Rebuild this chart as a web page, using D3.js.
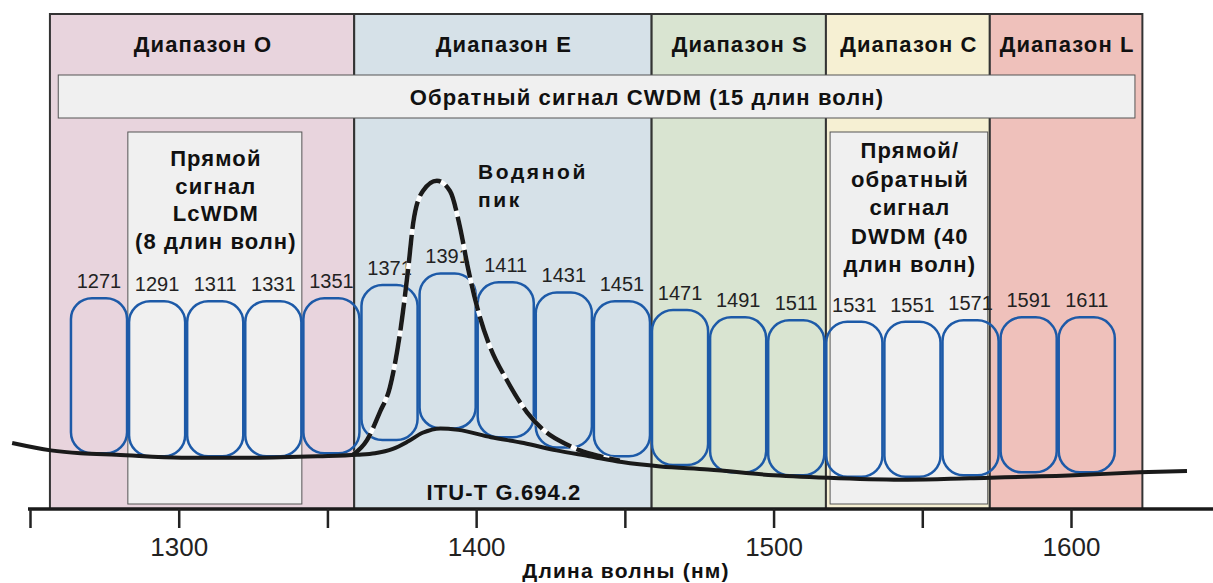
<!DOCTYPE html>
<meta charset="utf-8">
<style>
body { margin: 0; background: #fff; }
svg { display: block; font-family: "Liberation Sans", Arial, sans-serif; }
.band { stroke: #333; stroke-width: 2; }
.hdr { font-weight: bold; font-size: 22px; letter-spacing: 1.1px; fill: #111; text-anchor: middle; }
.note { font-weight: bold; font-size: 22px; letter-spacing: 1.1px; fill: #111; text-anchor: middle; }
.chan { fill: none; stroke: #1d5aa8; stroke-width: 2.5; }
.chan-label { font-size: 20px; fill: #222; text-anchor: middle; }
.axis text { font-size: 26px; fill: #222; font-family: "Liberation Sans", Arial, sans-serif; }
.axis line { stroke: #222; stroke-width: 2.5; }
</style>
<svg width="1213" height="583"></svg>
<script src="https://cdn.jsdelivr.net/npm/d3@7"></script>
<script>

// spectral bands (nm), as drawn
var bandNames  = ["Диапазон O", "Диапазон E", "Диапазон S", "Диапазон C", "Диапазон L"];
var bandStart  = [1256.7, 1359, 1459, 1517.6, 1572.7];
var bandEnd    = [1359, 1459, 1517.6, 1572.7, 1624];
var bandColors = ["#e8d4dd", "#d6e1e8", "#d9e4d1", "#f6f0d3", "#efc1bb"];

// CWDM channels and the attenuation level each box sits on (dB/km)
var channels = [1271, 1291, 1311, 1331, 1351, 1371, 1391, 1411, 1431, 1451, 1471, 1491, 1511, 1531, 1551, 1571, 1591, 1611];
var chanBase = [0.38, 0.36, 0.36, 0.36, 0.38, 0.47, 0.55, 0.49, 0.42, 0.36, 0.30, 0.25, 0.23, 0.22, 0.22, 0.23, 0.25, 0.25];

// fibre attenuation (G.694.2 low water peak) and the water peak
var fibreNm  = [1244, 1257, 1267, 1279, 1301, 1324, 1347, 1360, 1366, 1372, 1377, 1382, 1388, 1394, 1405, 1416, 1427, 1438, 1449, 1462, 1478, 1500, 1522, 1545, 1566, 1601, 1623, 1639];
var fibreAtt = [0.45, 0.40, 0.38, 0.37, 0.35, 0.35, 0.36, 0.37, 0.38, 0.41, 0.46, 0.52, 0.55, 0.54, 0.49, 0.45, 0.40, 0.36, 0.32, 0.29, 0.27, 0.23, 0.21, 0.20, 0.21, 0.23, 0.25, 0.26];
var peakNm   = [1358.6, 1363.3, 1367.6, 1371, 1374.4, 1377.1, 1378.9, 1382.1, 1386.8, 1391.2, 1394.5, 1397.2, 1400.3, 1404.6, 1410.3, 1417.1, 1423.8, 1430.5, 1434.9, 1441.6, 1448.3];
var peakAtt  = [0.37, 0.47, 0.66, 0.83, 1.20, 1.63, 1.96, 2.17, 2.24, 2.17, 1.93, 1.65, 1.38, 1.11, 0.88, 0.66, 0.52, 0.44, 0.40, 0.36, 0.33];

var ticks = [1250, 1300, 1350, 1400, 1450, 1500, 1550, 1600];

// overlay boxes
var cwdmSpan = [1259.5, 1621.5];
var lcSpan   = [1282.9, 1341.4];
var dwdmSpan = [1519, 1572];
var lcText   = ["Прямой", "сигнал", "LcWDM", "(8 длин волн)"];
var dwdmText = ["Прямой/", "обратный", "сигнал", "DWDM (40", "длин волн)"];

var svg = d3.select("svg");
var axisY = 509, topY = 14;

var x = d3.scaleLinear().domain([1250, 1600]).range([30, 1071]);
// the channel grid in the source is drawn slightly compressed
var xc = d3.scaleLinear().domain([1271, 1611]).range([x(1273.2), x(1605.3)]);
var y = d3.scaleLinear().domain([0, 2.5]).range([axisY, 142.6]);

// bands
svg.selectAll(".band").data(bandNames).enter().append("rect")
    .attr("class", "band")
    .attr("x", function(d, i) { return x(bandStart[i]); })
    .attr("y", topY)
    .attr("width", function(d, i) { return x(bandEnd[i]) - x(bandStart[i]); })
    .attr("height", axisY - topY)
    .attr("fill", function(d, i) { return bandColors[i]; });

svg.selectAll(".hdr").data(bandNames).enter().append("text")
    .attr("class", "hdr")
    .attr("x", function(d, i) { return (x(bandStart[i]) + x(bandEnd[i])) / 2 + 1; })
    .attr("y", 52)
    .text(function(d) { return d; });

// CWDM bar
svg.append("rect")
    .attr("x", x(cwdmSpan[0])).attr("y", 75)
    .attr("width", x(cwdmSpan[1]) - x(cwdmSpan[0])).attr("height", 43)
    .attr("fill", "#f0f0f0").attr("stroke", "#555").attr("stroke-width", 1);
svg.append("text").attr("class", "note")
    .attr("x", 647).attr("y", 105)
    .text("Обратный сигнал CWDM (15 длин волн)");

// LcWDM and DWDM boxes
[[lcSpan, lcText, 166, 27.7], [dwdmSpan, dwdmText, 158, 28.6]].forEach(function(b) {
    var s = b[0];
    svg.append("rect")
        .attr("x", x(s[0])).attr("y", 132)
        .attr("width", x(s[1]) - x(s[0])).attr("height", axisY - 5 - 132)
        .attr("fill", "#f0f0f0").attr("stroke", "#555").attr("stroke-width", 1);
    svg.append("g").selectAll("text").data(b[1]).enter().append("text")
        .attr("class", "note")
        .attr("x", (x(s[0]) + x(s[1])) / 2 + 1)
        .attr("y", function(d, i) { return b[2] + i * b[3]; })
        .text(function(d) { return d; });
});

// channel boxes
var bw = xc(channels[1]) - xc(channels[0]);
var bh = 155;
svg.selectAll(".chan").data(channels).enter().append("rect")
    .attr("class", "chan")
    .attr("x", function(d) { return xc(d) - bw / 2 + 1; })
    .attr("y", function(d, i) { return y(chanBase[i]) - bh; })
    .attr("width", bw - 2)
    .attr("height", bh)
    .attr("rx", 21);

svg.selectAll(".chan-label").data(channels).enter().append("text")
    .attr("class", "chan-label")
    .attr("x", function(d) { return xc(d); })
    .attr("y", function(d, i) { return y(chanBase[i]) - bh - 10; })
    .text(function(d) { return d; });

// curves
var line = d3.line()
    .x(function(d) { return x(d[0]); })
    .y(function(d) { return y(d[1]); })
    .curve(d3.curveMonotoneX);

var peak = d3.zip(peakNm, peakAtt);
svg.append("path").datum(peak).attr("d", line)
    .attr("fill", "none").attr("stroke", "#fff").attr("stroke-width", 4.5);
svg.append("path").datum(peak).attr("d", line)
    .attr("fill", "none").attr("stroke", "#1a1a1a").attr("stroke-width", 4.5)
    .attr("stroke-dasharray", "28,6");

svg.append("path").datum(d3.zip(fibreNm, fibreAtt)).attr("d", line)
    .attr("fill", "none").attr("stroke", "#1a1a1a").attr("stroke-width", 4)
    .attr("stroke-linecap", "butt");

svg.append("text").attr("x", 478).attr("y", 179)
    .style("font-weight", "bold").style("font-size", "21px").style("letter-spacing", "2.6px").attr("fill", "#111")
    .text("Водяной");
svg.append("text").attr("x", 478).attr("y", 207)
    .style("font-weight", "bold").style("font-size", "21px").style("letter-spacing", "2.6px").attr("fill", "#111")
    .text("пик");

svg.append("text").attr("class", "note")
    .attr("x", 504).attr("y", 500)
    .attr("fill", "#222")
    .text("ITU-T G.694.2");

// x axis
svg.append("line")
    .attr("x1", x(1250) - 2).attr("x2", 1213)
    .attr("y1", axisY).attr("y2", axisY)
    .attr("stroke", "#1a1a1a").attr("stroke-width", 3.5);

var ax = svg.append("g")
    .attr("class", "axis")
    .attr("transform", "translate(0," + axisY + ")")
    .call(d3.axisBottom(x).tickValues(ticks).tickSize(19).tickPadding(10)
        .tickFormat(function(d) { return d % 100 === 0 ? d : ""; }));
ax.select(".domain").remove();

svg.append("text")
    .attr("x", 626).attr("y", 578)
    .attr("text-anchor", "middle")
    .style("font-weight", "bold").style("font-size", "21px").style("letter-spacing", "1.2px").attr("fill", "#111")
    .text("Длина волны (нм)");

</script>
